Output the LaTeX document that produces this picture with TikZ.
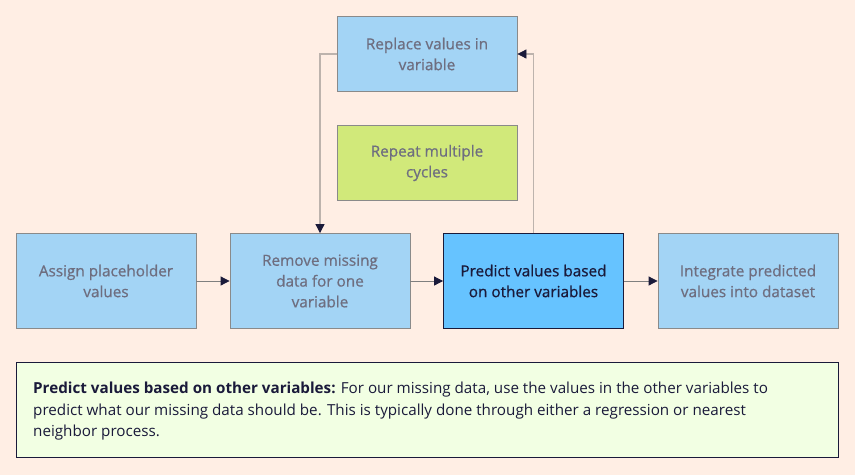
\documentclass[tikz,border=0pt]{standalone}
\usepackage{fontspec}
\setmainfont{Open Sans}
\newfontfamily\boxfont[FakeBold=0.7]{Open Sans}
\usetikzlibrary{arrows.meta}
\definecolor{bg}{HTML}{FFEEE4}
\definecolor{boxfill}{HTML}{A3D4F5}
\definecolor{boxedge}{HTML}{8A8A8A}
\definecolor{hifill}{HTML}{66C3FF}
\definecolor{navy}{HTML}{1A1A3A}
\definecolor{greenfill}{HTML}{D1E97A}
\definecolor{notefill}{HTML}{F2FFE3}
\definecolor{fadetext}{HTML}{6E6E80}
\definecolor{loopline}{HTML}{BDB3AD}
\definecolor{flowline}{HTML}{7F7F7F}
\tikzset{
  x=1pt, y=-1pt,
  stepbox/.style={draw=boxedge, line width=0.8pt, fill=boxfill, text=fadetext,
    minimum width=180pt, minimum height=95pt, align=center, font=\boxfont\fontsize{15.3}{20.8}\selectfont, inner sep=0pt},
  hibox/.style={stepbox, fill=hifill, draw=navy, text=navy},
  topbox/.style={stepbox, minimum height=75pt},
  flow/.style={draw=flowline, line width=0.8pt, -{Triangle[length=9pt,width=9pt,color=navy,fill=navy]}},
  loop/.style={draw=loopline, line width=1.6pt, -{Triangle[length=9pt,width=9pt,color=navy,fill=navy,line width=0.8pt]}},
}
\begin{document}
\begin{tikzpicture}
\fill[bg] (0,0) rectangle (855,475);
\useasboundingbox (0,0) rectangle (855,475);
\node[stepbox] (assign) at (106,281) {Assign placeholder\\values};
\node[stepbox] (remove) at (320,281) {Remove missing\\data for one\\variable};
\node[hibox] (predict) at (533.5,281) {Predict values based\\on other variables};
\node[stepbox] (integrate) at (748,281) {Integrate predicted\\values into dataset};
\node[topbox] (replace) at (427,54) {Replace values in\\variable};
\node[topbox, fill=greenfill] (repeat) at (427,163) {Repeat multiple\\cycles};
\draw[flow] (assign) -- (remove);
\draw[flow] (remove) -- (predict);
\draw[flow] (predict) -- (integrate);
\draw[loop] (replace.west) -| (remove.north);
\draw[loop] (predict.north) |- (replace.east);
\node[draw=navy, line width=0.8pt, fill=notefill, minimum width=822pt, minimum height=95pt, inner sep=0pt] (note) at (427,409.5) {};
\node[anchor=north west, align=left, text=navy, font=\fontsize{15.2}{21.5}\selectfont, inner sep=0pt] (notetext) at (33,382)
{\textbf{Predict values based on other variables:} For our missing data, use the values in the other variables to\\
predict what our missing data should be. This is typically done through either a regression or nearest\\
neighbor process.};
\end{tikzpicture}
\end{document}
